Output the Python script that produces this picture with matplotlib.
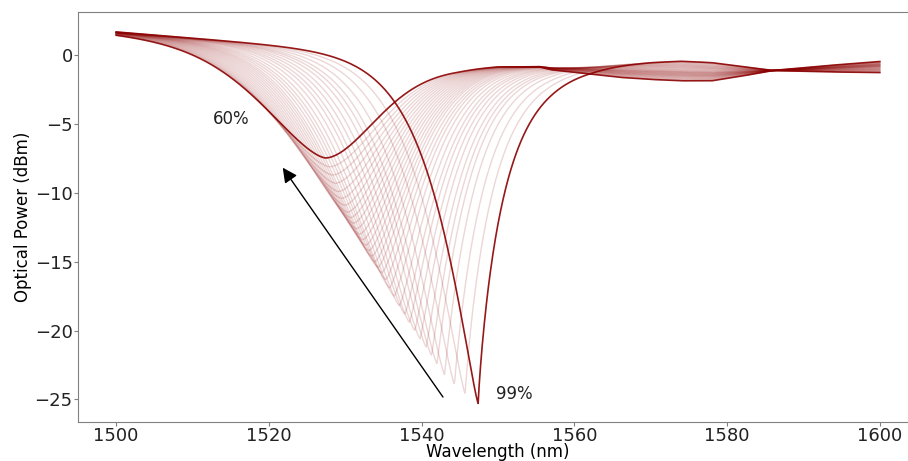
import numpy as np
import matplotlib.pyplot as plt

# dip minimum of every trace (wavelength in nm, power in dBm), first = 60 %, last = 99 %
dip_wavelength = [1527.4, 1527.9, 1528.3, 1528.7, 1529.1, 1529.5, 1529.9, 1530.3, 1530.7,
                  1531.1, 1531.5, 1531.9, 1532.3, 1532.7, 1533.1, 1533.5, 1533.9, 1534.3,
                  1534.8, 1535.3, 1535.8, 1536.4, 1537.1, 1537.8, 1538.4, 1539.1, 1539.8,
                  1540.6, 1541.3, 1542.0, 1543.0, 1544.3, 1545.7, 1547.4]
dip_power = [-7.46, -8.1, -8.7, -9.3, -9.9, -10.4, -10.9, -11.4, -11.8,
             -12.2, -12.6, -13.0, -13.4, -13.8, -14.2, -14.6, -15.0, -15.4,
             -15.8, -16.3, -16.9, -17.5, -18.2, -18.8, -19.4, -20.0, -20.6,
             -21.2, -21.8, -22.4, -23.2, -23.9, -24.6, -25.3]

# dip shape (width nm, exponent) for the 60 % and 99 % traces, left / right flank
width_left = [11.5, 6.2]
shape_left = [1.6, 1.2]
width_right = [9.2, 3.6]
shape_right = [1.8, 0.88]

# left baseline level at 1500 nm (60 %, 99 %) and its slope (dB/nm)
base_left_start = [1.6, 1.7]
base_left_slope = -0.045

base_right_wl = [1545, 1550, 1555.5, 1557, 1562, 1566, 1570, 1574, 1578, 1582, 1586, 1593, 1600]
base_right_60 = [-0.95, -0.8, -0.85, -1.05, -1.35, -1.6, -1.75, -1.85, -1.85, -1.5, -1.1, -0.75, -0.45]
base_right_99 = [-0.6, -0.6, -0.6, -0.6, -0.55, -0.45, -0.38, -0.36, -0.5, -0.8, -1.1, -1.2, -1.25]

wl = np.linspace(1500, 1600, 1501)


def trace(c, m):
    t = (m - dip_power[0]) / (dip_power[-1] - dip_power[0])
    mix = lambda p: p[0] + (p[1] - p[0]) * t
    b_left = mix(base_left_start) + base_left_slope * (wl - 1500)
    b_right = (1 - t) * np.interp(wl, base_right_wl, base_right_60) + \
        t * np.interp(wl, base_right_wl, base_right_99)
    x = wl - c
    left = wl < c
    y = np.empty_like(wl)
    dl = mix(base_left_start) + base_left_slope * (c - 1500) - m
    dr = (1 - t) * np.interp(c, base_right_wl, base_right_60) + \
        t * np.interp(c, base_right_wl, base_right_99) - m
    y[left] = b_left[left] - dl * np.exp(-np.abs(x[left] / mix(width_left)) ** mix(shape_left))
    y[~left] = b_right[~left] - dr * np.exp(-np.abs(x[~left] / mix(width_right)) ** mix(shape_right))
    return y


fig = plt.figure(figsize=(9.08, 4.61), dpi=100)
ax = fig.add_axes([78 / 908, 39 / 461, 840 / 908, 410 / 461])

for c, m in zip(dip_wavelength[1:-1], dip_power[1:-1]):
    ax.plot(wl, trace(c, m), color='darkred', alpha=0.16, lw=1.0)
for c, m in [(dip_wavelength[0], dip_power[0]), (dip_wavelength[-1], dip_power[-1])]:
    ax.plot(wl, trace(c, m), color='darkred', alpha=0.9, lw=1.2)

ax.text(1515.1, -4.65, '60%', fontsize=12, ha='center', va='center', color='#222222')
ax.text(1552.2, -24.6, '99%', fontsize=12, ha='center', va='center', color='#222222')
ax.annotate('', xy=(1521.6, -8.0), xytext=(1543.0, -25.0),
            arrowprops=dict(arrowstyle='-|>', color='black', lw=1.0, mutation_scale=22))

ax.set_xlim(1495, 1605)
ax.set_ylim(-26.65, 3.15)
ax.set_xticks([1500, 1520, 1540, 1560, 1580, 1600])
ax.set_yticks([0, -5, -10, -15, -20, -25])
ax.set_xlabel('Wavelength (nm)', fontsize=12, labelpad=-2)
ax.set_ylabel('Optical Power (dBm)', fontsize=12, labelpad=2)
ax.tick_params(labelsize=13, colors='#808080', labelcolor='#222222', length=3, pad=0.8)
for s in ax.spines.values():
    s.set_color('#808080')

fig.savefig('out.png', dpi=100)
